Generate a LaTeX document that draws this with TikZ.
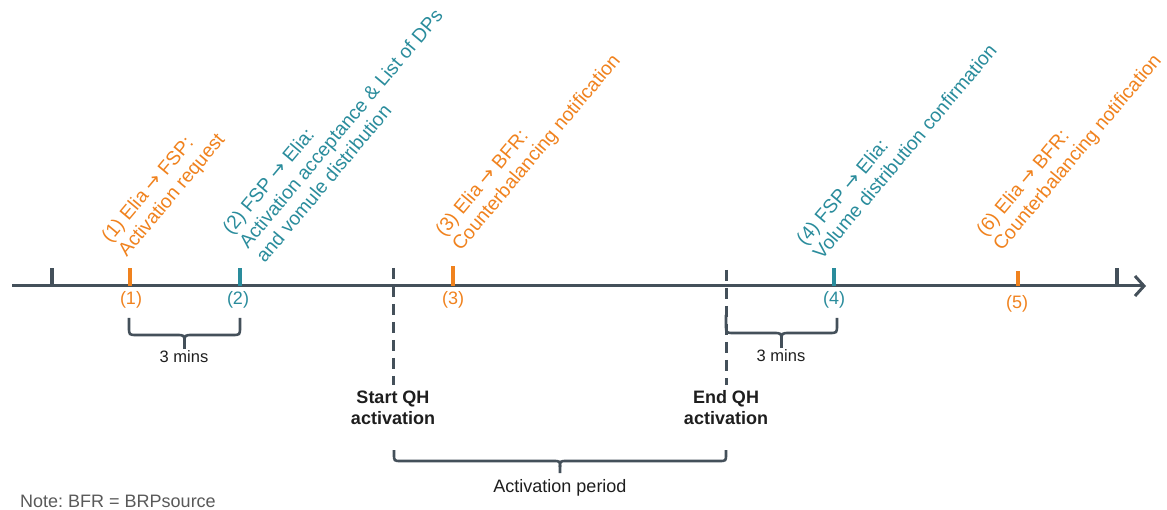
\documentclass[tikz,border=0pt]{standalone}
\usepackage{fontspec}
\setmainfont{Liberation Sans}
\newfontfamily\arrfont{DejaVu Sans}
\usetikzlibrary{arrows.meta}
\definecolor{axisc}{HTML}{44505A}
\definecolor{orng}{HTML}{F0821E}
\definecolor{tealc}{HTML}{2A8C9C}
\definecolor{txtc}{HTML}{1E1E1E}
\definecolor{notec}{HTML}{595959}
\newcommand{\arr}{{\arrfont →}}
\frenchspacing
\begin{document}
\begin{tikzpicture}[x=1pt,y=-1pt,
  axisline/.style={line width=3pt,color=axisc},
  tickmark/.style={line width=3.2pt},
  dline/.style={line width=3pt,color=axisc,dash pattern=on 11pt off 7pt},
  brc/.style={line width=2.6pt,color=axisc},
  numlbl/.style={inner sep=0pt,font=\fontsize{18}{21}\selectfont},
  evlbl/.style={rotate=50,anchor=south west,inner sep=0pt,text depth=0pt,align=left,font=\fontsize{19.3}{22}\selectfont},
  plain/.style={inner sep=0pt,text=txtc,font=\fontsize{16.5}{20}\selectfont},
  boldlbl/.style={inner sep=0pt,align=center,text=txtc,font=\fontsize{18}{21}\selectfont\bfseries}]
\useasboundingbox (0,0) rectangle (1167,510);

% axis
\coordinate (ax0) at (12,286);
\coordinate (ax1) at (1146,286);
\draw[axisline,-{Straight Barb[length=9pt,width=20pt]}] (ax0) -- (ax1);

% end ticks
\coordinate (e0) at (52,286);   \coordinate (e0t) at (52,268);
\coordinate (e1) at (1117,286); \coordinate (e1t) at (1117,268);
\draw[tickmark,axisc] (e0) -- (e0t);
\draw[tickmark,axisc] (e1) -- (e1t);

% event ticks
\coordinate (t1) at (130,286); \coordinate (t1t) at (130,268);
\coordinate (t2) at (240,286); \coordinate (t2t) at (240,268);
\coordinate (t3) at (453,286); \coordinate (t3t) at (453,266);
\coordinate (t4) at (834,286); \coordinate (t4t) at (834,268);
\coordinate (t5) at (1018,286); \coordinate (t5t) at (1018,271);
\draw[tickmark,orng] (t1) -- (t1t);
\draw[tickmark,tealc] (t2) -- (t2t);
\draw[tickmark,orng] (t3) -- (t3t);
\draw[tickmark,tealc] (t4) -- (t4t);
\draw[tickmark,orng] (t5) -- (t5t);

% dashed QH lines
\coordinate (qs0) at (393,268); \coordinate (qs1) at (393,385);
\coordinate (qe0) at (726,270); \coordinate (qe1) at (726,385);
\draw[dline] (qs0) -- (qs1);
\draw[dline] (qe0) -- (qe1);

% numbers below axis
\node[numlbl,text=orng]  (n1) at (131,300) {(1)};
\node[numlbl,text=tealc] (n2) at (238,300) {(2)};
\node[numlbl,text=orng]  (n3) at (453,300) {(3)};
\node[numlbl,text=tealc] (n4) at (834,300) {(4)};
\node[numlbl,text=orng]  (n5) at (1017,304) {(5)};

% rotated event labels
\node[evlbl,text=orng]  (l1) at (127,258) {(1) Elia \arr{} FSP:\\Activation request};
\node[evlbl,text=tealc] (l2) at (265,264) {(2) FSP \arr{} Elia:\\Activation acceptance \& List of DPs\\and vomule distribution};
\node[evlbl,text=orng]  (l3) at (461,252) {(3) Elia \arr{} BFR:\\Counterbalancing notification};
\node[evlbl,text=tealc] (l4) at (822,261) {(4) FSP \arr{} Elia:\\Volume distribution confirmation};
\node[evlbl,text=orng]  (l6) at (1002,252) {(6) Elia \arr{} BFR:\\Counterbalancing notification};

% brace 1
\draw[brc] (129,318) -- (129,327) .. controls (129,335) .. (137,335) -- (176,335) .. controls (184.5,335) .. (184.5,343) -- (184.5,349);
\draw[brc] (240,318) -- (240,327) .. controls (240,335) .. (232,335) -- (193,335) .. controls (184.5,335) .. (184.5,343);
\node[plain] (m1) at (184,357) {3 mins};

% brace 2
\draw[brc] (726,315) -- (726,325) .. controls (726,333) .. (734,333) -- (773,333) .. controls (781.5,333) .. (781.5,341) -- (781.5,348);
\draw[brc] (837,318) -- (837,325) .. controls (837,333) .. (829,333) -- (790,333) .. controls (781.5,333) .. (781.5,341);
\node[plain] (m2) at (781,356) {3 mins};

% QH labels
\node[boldlbl] (sq) at (393,408) {Start QH\\activation};
\node[boldlbl] (eq) at (726,408) {End QH\\activation};

% activation brace
\draw[brc] (394,450) -- (394,454) .. controls (394,461) .. (401,461) -- (553,461) .. controls (560,461) .. (560,467) -- (560,473);
\draw[brc] (726,450) -- (726,454) .. controls (726,461) .. (719,461) -- (567,461) .. controls (560,461) .. (560,467);
\node[plain,font=\fontsize{18}{21}\selectfont] (ap) at (560,488) {Activation period};

% note
\node[plain,anchor=west,text=notec,font=\fontsize{18}{21}\selectfont] (note) at (20,501) {Note: BFR = BRPsource};
\end{tikzpicture}
\end{document}
